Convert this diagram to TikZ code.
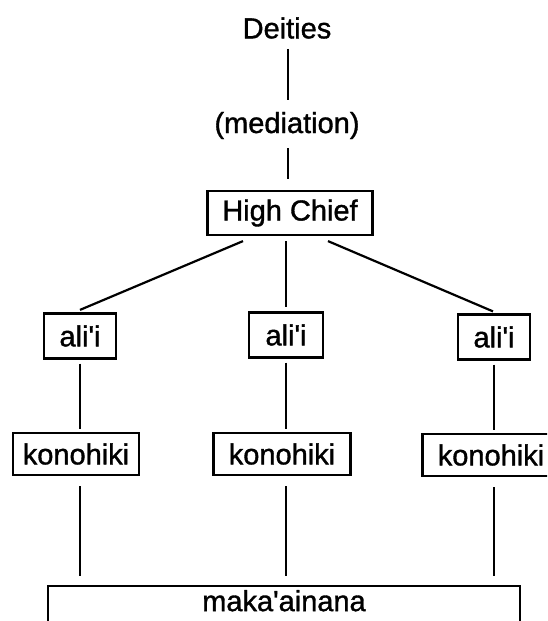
\documentclass[tikz,border=0pt]{standalone}
\usepackage{fontspec}
\newfontfamily\hf{Liberation Sans}[FakeBold=1.2]
\begin{document}
\begin{tikzpicture}[x=1pt,y=-1pt,
  lbl/.style={font=\hf\fontsize{29}{32}\selectfont, inner sep=0pt},
  box/.style={lbl, draw, line width=2.2pt, minimum height=44pt},
  link/.style={line width=2.2pt}]
\clip (0,0) rectangle (547,621);
\node[lbl] (de) at (287,28) {Deities};
\node[lbl, anchor=base] (me) at (287,133) {(mediation)};
\node[box, minimum width=165pt] (hc) at (290,213) {High Chief};
\node[box, minimum width=72pt, minimum height=45pt] (a1) at (80,336) {ali'i};
\node[box, minimum width=74pt, minimum height=45pt] (a2) at (286,335) {ali'i};
\node[box, minimum width=72pt, minimum height=45pt] (a3) at (494,337) {ali'i};
\node[box, minimum width=126pt, minimum height=42pt] (k1) at (76,454) {konohiki};
\node[box, minimum width=137pt, minimum height=42pt] (k2) at (282,454) {konohiki};
\node[box, minimum width=137pt, minimum height=42pt] (k3) at (491,455) {konohiki};
\node[lbl, draw, line width=2.2pt, anchor=north, minimum width=472pt, inner sep=3pt, text height=22pt, text depth=40pt] (mk) at (284,585) {maka'ainana};
% connectors
\draw[link] ([xshift=1pt,yshift=-10pt]de.south) -- ([xshift=1pt,yshift=12pt]me.north);
\draw[link] ([xshift=1pt,yshift=-9pt]me.south) -- ([xshift=1pt,yshift=11pt]me.south |- hc.north);
\draw[link] ([xshift=-47pt,yshift=-5pt]hc.south) -- ([yshift=2.5pt]a1.north);
\draw[link] ([xshift=-4pt,yshift=-5pt]hc.south) -- ([yshift=4pt]a2.north);
\draw[link] ([xshift=38pt,yshift=-5pt]hc.south) -- ([xshift=-1pt,yshift=2pt]a3.north);
\foreach \a/\k in {a1/k1,a2/k2,a3/k3}{
  \draw[link] ([yshift=-4pt]\a.south) -- ([yshift=3pt]\a.south |- \k.north);
  \draw[link] ([yshift=-10pt]\a.south |- \k.south) -- ([yshift=9pt]\a.south |- mk.north);
}
\end{tikzpicture}
\end{document}
